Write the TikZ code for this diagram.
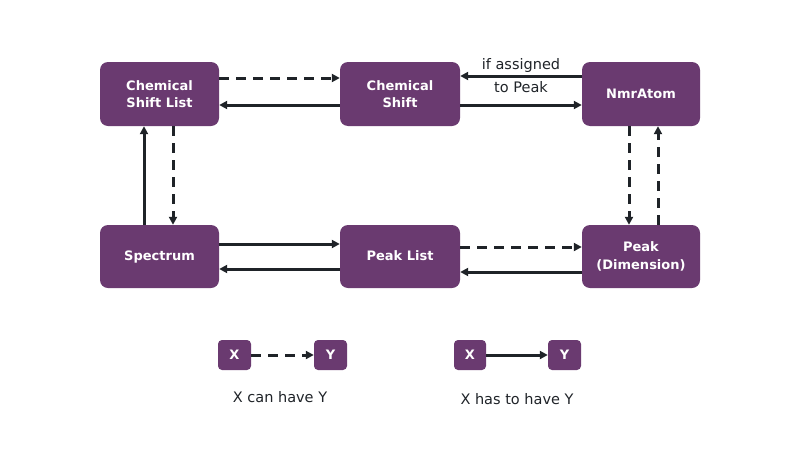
\documentclass[tikz,border=0pt]{standalone}
\usepackage{fontspec}
\setmainfont{DejaVu Sans}
\usetikzlibrary{arrows.meta}
\definecolor{boxpurple}{HTML}{6A3A70}
\definecolor{linedark}{HTML}{1F2328}
\begin{document}
\begin{tikzpicture}[x=1pt,y=-1pt,
  entity/.style={fill=boxpurple,rounded corners=8pt,text=white,align=center,
    font=\fontsize{13}{17.5}\selectfont\bfseries,inner sep=0pt},
  conn/.style={draw=linedark,line width=3pt,-{Triangle[length=8pt,width=8pt]}},
  opt/.style={conn,dash pattern=on 10pt off 7pt},
  lbl/.style={text=linedark,font=\fontsize{14.5}{17}\selectfont,align=center}]
\useasboundingbox (0,0) rectangle (800,450);
\node[entity,minimum width=119pt,minimum height=64pt] (csl) at (159.5,94) {Chemical\\Shift List};
\node[entity,minimum width=120pt,minimum height=64pt] (cs) at (400,94) {Chemical\\Shift};
\node[entity,minimum width=118pt,minimum height=64pt] (atom) at (641,94) {NmrAtom};
\node[entity,minimum width=119pt,minimum height=63pt] (spec) at (159.5,256.5) {\strut Spectrum};
\node[entity,minimum width=120pt,minimum height=63pt] (pl) at (400,256.5) {\strut Peak List};
\node[entity,minimum width=118pt,minimum height=63pt] (peak) at (641,256.5) {Peak\\(Dimension)};
% top row
\draw[opt] (csl.east |- 0,78) -- (cs.west |- 0,78);
\draw[conn] (cs.west |- 0,105) -- (csl.east |- 0,105);
\draw[conn] (atom.west |- 0,76) -- node[lbl,above=-1pt] {if assigned} node[lbl,below=1pt] {to Peak} (cs.east |- 0,76);
\draw[conn] (cs.east |- 0,105) -- (atom.west |- 0,105);
% left column
\draw[conn] (spec.north -| 144,0) -- (csl.south -| 144,0);
\draw[opt] (csl.south -| 173,0) -- (spec.north -| 173,0);
% right column
\draw[opt] (atom.south -| 629,0) -- (peak.north -| 629,0);
\draw[opt] (peak.north -| 658,0) -- (atom.south -| 658,0);
% bottom row
\draw[conn] (spec.east |- 0,244) -- (pl.west |- 0,244);
\draw[conn] (pl.west |- 0,269) -- (spec.east |- 0,269);
\draw[opt] (pl.east |- 0,247) -- (peak.west |- 0,247);
\draw[conn] (peak.west |- 0,272) -- (pl.east |- 0,272);
% legend
\node[entity,minimum width=33pt,minimum height=30pt,rounded corners=4pt] (x1) at (234.5,355) {X};
\node[entity,minimum width=33pt,minimum height=30pt,rounded corners=4pt] (y1) at (330.5,355) {Y};
\node[entity,minimum width=32pt,minimum height=30pt,rounded corners=4pt] (x2) at (470,355) {X};
\node[entity,minimum width=33pt,minimum height=30pt,rounded corners=4pt] (y2) at (564.5,355) {Y};
\draw[opt] (x1) -- (y1);
\draw[conn] (x2) -- (y2);
\node[lbl] (t1) at (280,397) {X can have Y};
\node[lbl] (t2) at (517,399) {X has to have Y};
\end{tikzpicture}
\end{document}
